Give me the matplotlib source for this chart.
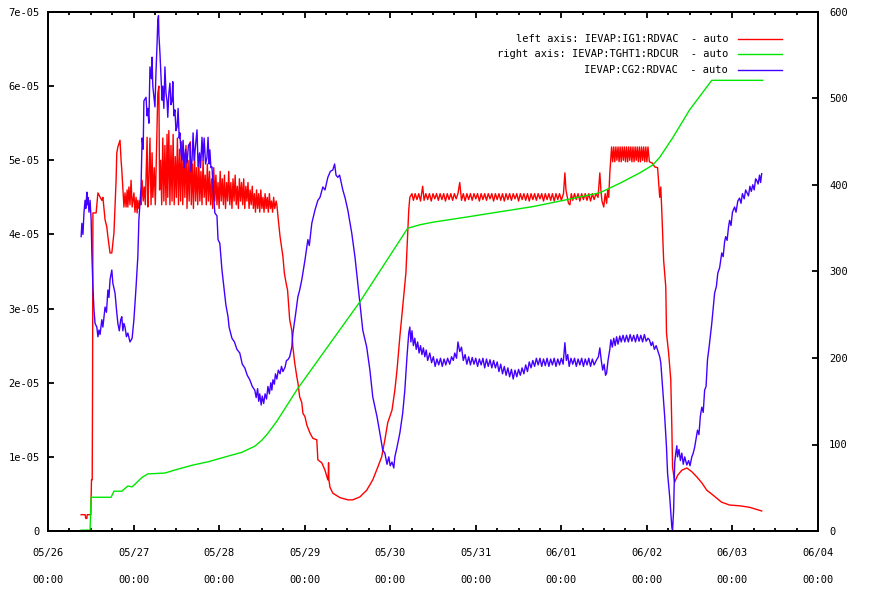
import matplotlib
matplotlib.use('Agg')
import matplotlib.pyplot as plt
import numpy as np

plt.rcParams['font.family'] = 'DejaVu Sans Mono'

# time axis: hours since 05/26 00:00
day_labels = ['05/26', '05/27', '05/28', '05/29', '05/30', '05/31',
              '06/01', '06/02', '06/03', '06/04']

# IEVAP:IG1:RDVAC (left axis, units of 1e-05)
ig1_t = [9.3, 10.4, 10.6, 10.9, 11.0, 12.0, 12.2, 12.4, 12.5, 12.6, 13.5, 14.0, 15.1, 15.4, 16.0, 16.5,
         16.8, 17.4, 17.9, 18.5, 19.1, 19.3, 19.6, 20.2, 20.5, 20.7, 21.3,
         21.6, 21.9, 22.2, 22.4, 22.7, 23.0, 23.3, 23.6, 24.1, 24.4, 24.7, 25.0, 25.2, 25.5, 25.8, 26.1,
         26.4, 26.7, 27.0, 27.3, 27.8, 28.0, 28.3, 28.6, 28.9, 29.2, 29.4, 29.8, 30.1, 30.6, 30.8, 31.1,
         31.3, 31.6, 31.9, 32.2, 32.5, 32.8, 33.1, 33.4, 33.6, 33.9, 34.2, 34.5, 34.8, 35.1, 35.4, 35.7,
         36.0, 36.3, 36.6, 36.9, 37.2, 37.5, 37.8, 38.1, 38.4, 38.7, 39.0, 39.3, 39.6, 39.9, 40.2, 40.5,
         40.8, 41.1, 41.4, 41.7, 42.0, 42.3, 42.6, 42.9, 43.2, 43.5, 43.8, 44.1, 44.4, 44.7, 45.0, 45.3,
         45.6, 45.9, 46.2, 46.5, 46.8, 47.1, 47.4, 47.7, 48.0, 48.3, 48.6, 48.9, 49.2, 49.5, 49.8, 50.1,
         50.4, 50.7, 51.0, 51.3, 51.6, 51.9, 52.2, 52.5, 52.8, 53.1, 53.4, 53.7, 54.0, 54.3, 54.6, 54.9,
         55.2, 55.5, 55.8, 56.1, 56.4, 56.7, 57.0, 57.3, 57.6, 57.9, 58.2, 58.5, 58.8, 59.1, 59.4, 59.7,
         60.0, 60.3, 60.6, 60.9, 61.2, 61.5, 61.8, 62.1, 62.4, 62.7, 63.0, 63.3, 63.6, 64.0, 64.2,
         64.6, 65.1, 65.6, 65.9, 66.3, 66.8, 67.2, 67.8, 68.4, 68.7, 69.2, 69.8, 70.1, 70.6, 71.2, 71.5,
         72.1, 72.6, 73.5, 74.3, 75.4, 75.7, 76.8, 77.7, 78.5, 78.6, 78.7, 78.8, 79.1, 79.9, 81.9, 84.1,
         85.5, 87.5, 89.4, 91.1, 92.5, 93.6, 94.5, 95.3, 96.5, 97.3, 97.9, 98.7, 99.5, 100.4, 100.9, 101.2,
         101.5, 102.1, 102.5, 103.0, 103.5, 104.0, 104.5, 105.1, 105.5, 106.0, 106.5, 107.0, 107.5, 108.0,
         108.5, 109.0, 109.5, 110.0, 110.5, 111.0, 111.5, 112.0, 112.5, 113.0, 113.5, 114.0, 114.5, 115.0,
         115.5, 116.0, 116.5, 117.0, 117.5, 118.0, 118.5, 119.0, 119.5, 120.0, 120.5, 121.0, 121.5, 122.0,
         122.5, 123.0, 123.5, 124.0, 124.5, 125.0, 125.5, 126.0, 126.5, 127.0, 127.5, 128.0, 128.5, 129.0,
         129.5, 130.0, 130.5, 131.0, 131.5, 132.0, 132.5, 133.0, 133.5, 134.0, 134.5, 135.0, 135.5, 136.0,
         136.5, 137.0, 137.5, 138.0, 138.5, 139.0, 139.5, 140.0, 140.5, 141.0, 141.5, 142.0, 142.5, 143.0,
         143.5, 144.0, 144.6, 145.0, 145.3, 145.7, 146.0, 146.4, 146.8, 147.2, 147.7, 148.2, 148.7, 149.2,
         149.7, 150.2, 150.7, 151.2, 151.7, 152.2, 152.7, 153.2, 153.7, 154.3, 154.8, 155.1, 155.4, 155.9,
         156.3, 156.7, 157.0, 157.3, 157.6, 158.1,
         158.4, 158.7, 159.0, 159.3, 159.6, 159.9, 160.2, 160.5, 160.8, 161.1, 161.4, 161.7, 162.0, 162.3,
         162.6, 162.9, 163.2, 163.5, 163.8, 164.1, 164.4, 164.7, 165.0, 165.3, 165.6, 165.9, 166.2, 166.5,
         166.8, 167.1, 167.4, 167.7, 168.0, 168.3, 168.7, 169.6, 170.2, 171.0,
         171.6, 171.9, 172.2, 172.7, 173.3, 173.5, 174.1, 174.7, 175.0, 175.2, 175.8, 176.6, 177.8, 179.2,
         180.6, 182.0, 183.4, 184.8, 186.4, 188.9, 191.2, 194.0, 196.8, 200.2]
ig1_v = [0.22, 0.22, 0.17, 0.17, 0.22, 0.22, 0.69, 0.69, 2.0, 4.29, 4.29, 4.56, 4.46, 4.5, 4.2, 4.1,
         3.97, 3.75, 3.75, 4.02, 4.73, 5.1, 5.18, 5.27, 5.0, 4.87, 4.37,
         4.56, 4.37, 4.6, 4.37, 4.64, 4.4, 4.73, 4.37, 4.56, 4.3, 4.5, 4.29, 4.46, 4.35, 4.46, 4.4,
         4.73, 4.45, 4.64, 4.4, 5.31, 4.37, 4.75, 5.3, 4.4, 5.1, 4.5, 4.9, 4.4, 5.45, 5.9, 6.0,
         4.6, 5.0, 4.4, 5.3, 4.45, 5.2, 4.4, 5.35, 4.5, 5.4, 4.4, 5.2, 4.45, 5.35, 4.4, 5.05,
         4.5, 5.3, 4.4, 5.15, 4.45, 5.25, 4.4, 5.1, 4.5, 5.2, 4.35, 5.0, 4.45, 5.25, 4.4, 4.95,
         4.35, 5.1, 4.45, 4.9, 4.4, 5.0, 4.45, 4.85, 4.4, 5.0, 4.5, 4.8, 4.4, 4.95, 4.45, 4.85,
         4.4, 4.75, 4.35, 4.9, 4.45, 4.8, 4.4, 4.7, 4.35, 4.85, 4.45, 4.75, 4.4, 4.8, 4.35, 4.7,
         4.45, 4.85, 4.4, 4.7, 4.35, 4.75, 4.45, 4.8, 4.4, 4.65, 4.35, 4.75, 4.45, 4.7, 4.4, 4.75,
         4.35, 4.65, 4.45, 4.7, 4.35, 4.6, 4.4, 4.65, 4.35, 4.55, 4.3, 4.6, 4.35, 4.55, 4.3, 4.6,
         4.35, 4.5, 4.3, 4.55, 4.35, 4.5, 4.3, 4.55, 4.35, 4.45, 4.3, 4.5, 4.35, 4.45, 4.4,
         4.2, 3.97, 3.8, 3.7, 3.48, 3.34, 3.25, 2.85, 2.7, 2.48, 2.27, 2.08, 2.0, 1.81, 1.73, 1.59,
         1.54, 1.43, 1.32, 1.25, 1.23, 0.96, 0.92, 0.82, 0.69, 0.69, 0.92, 0.69, 0.59, 0.51, 0.45, 0.42,
         0.42, 0.46, 0.55, 0.69, 0.86, 1.0, 1.23, 1.46, 1.63, 1.9, 2.17, 2.62, 3.02, 3.48, 4.02, 4.33,
         4.5, 4.55, 4.46, 4.55, 4.47, 4.55, 4.45, 4.65, 4.46, 4.55, 4.47, 4.55, 4.45, 4.55,
         4.48, 4.55, 4.46, 4.55, 4.47, 4.55, 4.45, 4.55, 4.47, 4.55, 4.46, 4.55, 4.48, 4.55,
         4.7, 4.46, 4.55, 4.45, 4.55, 4.47, 4.55, 4.46, 4.55, 4.48, 4.55, 4.45, 4.55, 4.47,
         4.55, 4.46, 4.55, 4.48, 4.55, 4.45, 4.55, 4.47, 4.55, 4.46, 4.55, 4.45, 4.55, 4.47,
         4.55, 4.46, 4.55, 4.48, 4.55, 4.45, 4.55, 4.47, 4.55, 4.46, 4.55, 4.45, 4.55, 4.47,
         4.55, 4.46, 4.55, 4.48, 4.55, 4.45, 4.55, 4.47, 4.55, 4.46, 4.55, 4.45, 4.55, 4.47,
         4.55, 4.46, 4.55, 4.83, 4.6, 4.5, 4.42, 4.4, 4.55, 4.46, 4.55, 4.47, 4.55, 4.45,
         4.55, 4.47, 4.55, 4.46, 4.55, 4.45, 4.55, 4.47, 4.55, 4.5, 4.83, 4.6, 4.45, 4.37,
         4.55, 4.42, 4.6, 4.5, 4.83, 5.18,
         4.98, 5.18, 4.98, 5.18, 5.0, 5.18, 4.98, 5.18, 4.98, 5.18, 5.0, 5.18, 4.98, 5.18,
         4.98, 5.18, 5.0, 5.18, 4.98, 5.18, 4.98, 5.18, 5.0, 5.18, 4.98, 5.18, 4.98, 5.18,
         5.0, 5.18, 4.98, 5.18, 4.98, 5.18, 4.98, 4.96, 4.91, 4.9,
         4.5, 4.64, 4.29, 3.65, 3.29, 2.67, 2.4, 2.04, 1.4, 0.86, 0.66, 0.75, 0.82, 0.85,
         0.8, 0.73, 0.65, 0.55, 0.49, 0.39, 0.35, 0.34, 0.32, 0.27]

# IEVAP:TGHT1:RDCUR (right axis)
tght1_t = [9.3, 11.8, 12.1, 17.7, 18.5, 20.7, 22.4, 23.6, 26.4, 28.0, 32.8, 35.6, 40.4, 44.9, 49.6,
           54.4, 58.0, 60.0, 61.7, 64.2, 70.1, 87.5, 100.9, 104.3, 108.0, 117.5, 126.7, 136.0, 145.5,
           154.8, 160.4, 166.0, 169.6, 171.6, 175.3, 180.0, 186.2, 200.5]
tght1_v = [1, 1, 39, 39, 46, 46, 52, 51, 62, 66, 67, 70.5, 76, 80, 85.5,
           91, 98, 105, 113, 127, 165, 265, 350, 354, 357, 363, 369, 375, 383,
           391, 402, 414, 423, 432, 455, 487, 521, 521]

# IEVAP:CG2:RDVAC (left axis, units of 1e-05)
cg2_t = [9.3, 9.5, 9.8, 10.1, 10.4, 10.6, 10.9, 11.0, 11.2, 11.5, 11.8, 12.1, 12.3, 12.6, 12.9, 13.2,
         13.7, 14.0, 14.3, 14.6, 15.1, 15.4, 16.0, 16.4, 16.8, 17.1, 17.4, 17.9, 18.2, 18.8, 19.3, 19.6,
         20.0, 20.4, 20.7, 21.0, 21.3, 21.6, 22.0, 22.4, 23.0, 23.6, 24.1, 24.7, 25.2, 25.5, 26.1, 26.4,
         26.7, 26.9, 27.5, 27.8, 28.0, 28.3, 28.6, 29.0, 29.2, 29.4, 30.0, 30.3, 30.6, 30.8, 31.0, 31.1,
         31.4, 32.0, 32.2, 32.5, 32.8, 33.1, 33.4, 33.6, 33.9, 34.2, 34.5, 34.8, 35.0, 35.3, 35.6, 35.9,
         36.2, 36.5, 36.8, 37.0, 37.3, 37.6, 37.9, 38.2, 38.6, 39.0, 39.4, 39.8, 40.1, 40.4, 40.7, 41.0,
         41.4, 41.8, 42.1, 42.5, 42.8, 43.2, 43.5, 43.8, 44.2, 44.6, 44.9, 45.2, 45.4, 45.7, 46.0, 46.3,
         46.8, 47.4, 47.7, 48.2, 48.8, 49.1, 49.6, 49.9, 50.5, 50.8, 51.6, 52.3, 53.0, 53.8, 54.5, 55.2,
         55.9, 56.6, 57.3, 58.0, 58.4, 58.8, 59.1, 59.4, 59.8, 60.1, 60.5, 60.9, 61.3, 61.7, 62.1, 62.5,
         62.8, 63.1, 63.5, 63.8, 64.2, 64.6, 65.1, 65.5, 65.9, 66.5, 66.9, 67.3, 67.8, 68.4, 68.7, 69.5,
         70.1, 70.6, 71.2, 72.1, 72.9, 73.3, 74.0, 74.9, 75.7, 76.3, 77.1, 77.7, 78.5, 79.2, 79.9, 80.4,
         80.8, 81.3, 81.8, 82.7, 83.3, 84.1, 85.2, 86.1, 86.9, 87.5, 88.3, 89.4, 90.3, 91.1, 92.3, 93.1,
         93.9, 94.5, 95.1, 95.6, 96.0, 96.5, 97.0, 97.3, 97.9, 98.7, 99.5, 100.1, 100.7, 101.2, 101.5, 101.8,
         102.1, 102.5, 102.9, 103.3, 103.7, 104.1, 104.5, 104.9, 105.3, 105.7, 106.1, 106.5, 107.1, 107.6,
         108.1, 108.6, 109.1, 109.6, 110.1, 110.6, 111.1, 111.6, 112.1, 112.7, 113.2, 113.7, 114.1, 114.6,
         115.0, 115.5, 116.0, 116.5, 117.0, 117.5, 118.0, 118.5, 119.0, 119.5, 120.0, 120.5, 121.0, 121.5,
         122.0, 122.5, 123.0, 123.5, 124.0, 124.5, 125.0, 125.5, 126.0, 126.5, 127.0, 127.5, 128.0, 128.5,
         129.0, 129.5, 130.0, 130.5, 131.0, 131.5, 132.0, 132.5, 133.0, 133.5, 134.0, 134.5, 135.0, 135.5,
         136.0, 136.5, 137.0, 137.5, 138.0, 138.5, 139.0, 139.5, 140.0, 140.5, 141.0, 141.5, 142.0, 142.5,
         143.0, 143.5, 144.0, 144.5, 145.0, 145.4, 145.8, 146.2, 146.7, 147.2, 147.7, 148.2, 148.7, 149.2,
         149.7, 150.2, 150.7, 151.2, 151.7, 152.2, 152.7, 153.2, 153.9, 154.4, 154.8, 155.2, 155.6, 156.0,
         156.4, 156.7, 157.1, 157.6, 157.9, 158.3, 158.7, 159.1, 159.5, 159.9, 160.4, 160.8, 161.3, 161.8,
         162.3, 162.8, 163.3, 163.8, 164.3, 164.8, 165.3, 165.8, 166.3, 166.8, 167.3, 167.8, 168.3, 168.7,
         169.2, 169.6, 170.1, 170.6, 171.0, 171.6, 171.9, 172.4, 173.0, 173.5, 173.8, 174.4, 175.0, 175.2,
         175.5, 175.8, 176.1, 176.4, 176.6, 177.0, 177.4, 177.8, 178.2, 178.6, 179.2, 179.7, 180.1, 180.6,
         181.0, 181.4, 182.2, 182.6, 183.0, 183.4, 183.8, 184.2, 184.6, 185.0, 185.5, 186.2, 187.0, 187.5,
         187.9, 188.4, 189.0, 189.4, 189.8, 190.1, 190.5, 190.9, 191.2, 191.6, 192.0, 192.6, 193.0, 193.5,
         194.0, 194.4, 194.8, 195.3, 195.7, 196.0, 196.5, 196.9, 197.3, 197.7, 198.1, 198.5, 198.8, 199.2,
         199.6, 199.9, 200.2]
cg2_v = [3.97, 4.15, 4.0, 4.3, 4.46, 4.35, 4.57, 4.4, 4.5, 4.3, 4.46, 4.2, 3.75, 3.29, 2.98, 2.8,
         2.75, 2.62, 2.71, 2.65, 2.85, 2.75, 3.02, 2.95, 3.25, 3.15, 3.39, 3.52, 3.34, 3.21, 2.94, 2.8,
         2.7, 2.85, 2.89, 2.7, 2.8, 2.75, 2.62, 2.67, 2.55, 2.6, 2.85, 3.29, 3.7, 4.2, 4.64, 5.3,
         5.15, 5.8, 5.85, 5.6, 5.7, 5.5, 6.26, 6.1, 6.39, 6.0, 5.72, 6.2, 6.58, 6.89, 6.95, 6.7,
         6.45, 5.81, 6.0, 5.7, 6.26, 5.9, 5.8, 5.58, 5.9, 6.04, 5.75, 5.8, 6.06, 5.6, 5.68, 5.4,
         5.45, 5.7, 5.3, 5.37, 5.1, 5.0, 5.27, 4.9, 5.15, 4.96, 5.2, 5.23, 4.85, 5.0, 5.37, 5.0,
         5.2, 5.41, 4.91, 5.1, 4.9, 5.31, 5.0, 5.3, 4.95, 5.04, 5.31, 4.95, 5.14, 4.9, 4.91, 4.64,
         4.29, 4.25, 3.93, 3.88, 3.52, 3.39, 3.16, 3.05, 2.89, 2.75, 2.6, 2.55, 2.45, 2.4, 2.25, 2.2,
         2.1, 2.04, 1.95, 1.9, 1.8, 1.92, 1.75, 1.85, 1.7, 1.82, 1.72, 1.85, 1.78, 1.95, 1.85, 2.0,
         1.9, 2.04, 1.98, 2.12, 2.05, 2.17, 2.12, 2.22, 2.15, 2.21, 2.3, 2.31, 2.35, 2.48, 2.67, 2.94,
         3.16, 3.25, 3.39, 3.66, 3.93, 3.85, 4.15, 4.33, 4.46, 4.5, 4.64, 4.6, 4.77, 4.85, 4.87, 4.95,
         4.8, 4.77, 4.8, 4.6, 4.5, 4.33, 4.02, 3.7, 3.34, 3.08, 2.71, 2.48, 2.17, 1.81, 1.54, 1.32,
         1.09, 1.05, 0.9, 1.0, 0.88, 0.93, 0.85, 1.0, 1.13, 1.32, 1.59, 1.9, 2.35, 2.67, 2.75, 2.55,
         2.7, 2.5, 2.6, 2.45, 2.55, 2.4, 2.5, 2.38, 2.47, 2.35, 2.44, 2.3, 2.4, 2.27,
         2.35, 2.22, 2.32, 2.24, 2.33, 2.22, 2.32, 2.24, 2.33, 2.25, 2.35, 2.3, 2.4, 2.33,
         2.55, 2.42, 2.48, 2.3, 2.38, 2.25, 2.35, 2.24, 2.34, 2.25, 2.33, 2.22, 2.32, 2.24,
         2.33, 2.2, 2.32, 2.22, 2.31, 2.2, 2.3, 2.2, 2.28, 2.15, 2.25, 2.12, 2.22, 2.1,
         2.2, 2.08, 2.18, 2.05, 2.17, 2.08, 2.18, 2.1, 2.2, 2.12, 2.24, 2.15, 2.28, 2.2,
         2.3, 2.22, 2.33, 2.24, 2.33, 2.22, 2.32, 2.23, 2.33, 2.22, 2.32, 2.24, 2.33, 2.22,
         2.32, 2.24, 2.33, 2.25, 2.54, 2.3, 2.38, 2.22, 2.33, 2.25, 2.33, 2.22, 2.32, 2.24,
         2.33, 2.22, 2.32, 2.24, 2.33, 2.22, 2.32, 2.24, 2.31, 2.35, 2.47, 2.3, 2.17, 2.25,
         2.1, 2.13, 2.3, 2.45, 2.58, 2.48, 2.6, 2.5, 2.62, 2.52, 2.63, 2.55, 2.64, 2.55,
         2.64, 2.55, 2.65, 2.56, 2.64, 2.55, 2.65, 2.56, 2.64, 2.55, 2.65, 2.56, 2.6, 2.58,
         2.5, 2.55, 2.45, 2.5, 2.44, 2.35, 2.27, 1.94, 1.54, 1.13, 0.78, 0.46, 0.05, 0.01,
         0.28, 0.92, 1.05, 1.15, 1.0, 1.1, 0.95, 1.05, 0.9, 1.0, 0.89, 0.95, 0.88, 1.0,
         1.05, 1.13, 1.36, 1.3, 1.55, 1.67, 1.6, 1.9, 1.95, 2.31, 2.5, 2.8, 3.21, 3.3,
         3.48, 3.55, 3.75, 3.7, 3.9, 3.97, 3.92, 4.1, 4.19, 4.12, 4.3, 4.37, 4.3, 4.45,
         4.49, 4.42, 4.55, 4.48, 4.6, 4.57, 4.52, 4.65, 4.58, 4.67, 4.6, 4.75, 4.73, 4.68,
         4.8, 4.7, 4.82]

W, H = 876, 613
fig = plt.figure(figsize=(W / 100, H / 100), dpi=100)
ax = fig.add_axes([48 / W, 1 - 531 / H, 770 / W, 519 / H])
ax2 = ax.twinx()

ax.plot(ig1_t, np.array(ig1_v) * 1e-5, color='#ff0000', lw=1.0)
ax.plot(cg2_t, np.array(cg2_v) * 1e-5, color='#4400ff', lw=1.0)
ax2.plot(tght1_t, tght1_v, color='#00e600', lw=1.0)

ax.set_xlim(0, 216)
ax.set_ylim(0, 7e-5)
ax2.set_ylim(0, 600)

ax.set_xticks(np.arange(0, 217, 24))
ax.set_xticks(np.arange(0, 217, 6), minor=True)
ax.set_xticklabels([d + '\n\n00:00' for d in day_labels], fontsize=7.5, linespacing=1.45)
ax.set_yticks(np.arange(0, 8) * 1e-5)
ax.set_yticklabels(['0'] + ['%de-05' % i for i in range(1, 8)], fontsize=7.5)
ax2.set_yticks(np.arange(0, 601, 100))
ax2.set_yticklabels([str(v) for v in range(0, 601, 100)], fontsize=7.5)

ax.tick_params(axis='x', which='both', direction='in', top=True, bottom=True, width=1.3, pad=12)
ax.tick_params(axis='x', which='major', length=4)
ax.tick_params(axis='x', which='minor', length=2.2)
ax.tick_params(axis='y', direction='in', left=True, right=False, length=4, width=1.3, pad=6)
ax2.tick_params(axis='y', direction='in', right=True, left=False, length=4, width=1.3, pad=8)

for a in (ax, ax2):
    for s in a.spines.values():
        s.set_linewidth(1.4)
        s.set_color('black')

# gnuplot-style key in the top right corner
key_text = ['left axis: IEVAP:IG1:RDVAC  - auto',
            'right axis: IEVAP:TGHT1:RDCUR  - auto',
            'IEVAP:CG2:RDVAC  - auto']
key_colors = ['#ff0000', '#00e600', '#4400ff']
key_rows = [39, 54, 70]
for txt, col, yp in zip(key_text, key_colors, key_rows):
    fy = 1 - yp / H
    fig.text(728 / W, fy, txt, ha='right', va='center', fontsize=7.5)
    fig.add_artist(plt.Line2D([738 / W, 782 / W], [fy, fy], color=col, lw=1.0))

fig.savefig('out.png', dpi=100)
